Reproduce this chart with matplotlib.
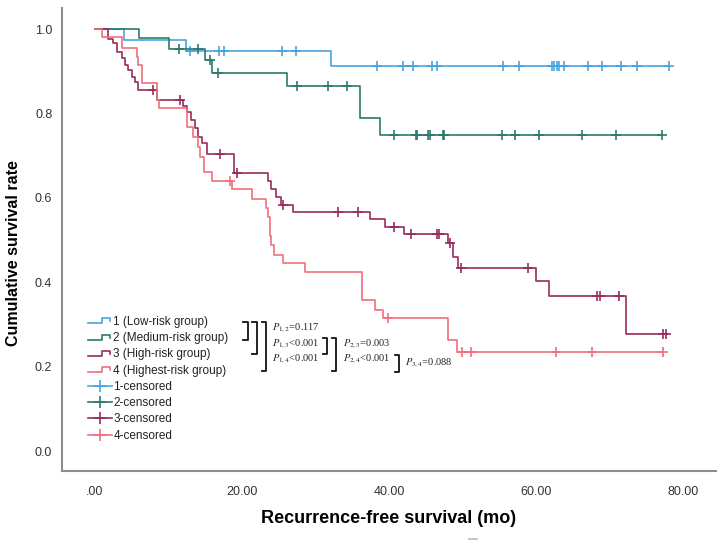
import matplotlib
matplotlib.use("Agg")
import matplotlib.pyplot as plt
import numpy as np
from matplotlib.lines import Line2D
from matplotlib.legend_handler import HandlerBase

# Kaplan-Meier step data: step times (mo) and survival after each step
low_t = [0, 3.9, 12.4, 32.1]
low_s = [1.0, 0.974, 0.948, 0.912]
low_end = 78.1
low_cens = [12.9, 16.9, 17.6, 25.4, 27.3, 38.4, 41.9, 43.3, 45.9, 46.5, 55.5, 57.7,
            62.2, 62.4, 62.9, 63.1, 63.8, 67.1, 69.0, 71.6, 73.7, 78.1]

med_t = [0, 6.0, 10.1, 15.0, 15.9, 26.1, 36.0, 38.8]
med_s = [1.0, 0.979, 0.952, 0.926, 0.897, 0.865, 0.789, 0.748]
med_end = 77.1
med_cens = [11.4, 14.0, 15.6, 16.7, 27.5, 31.7, 34.3, 40.7, 43.7, 43.8, 45.3, 45.6,
            47.3, 47.5, 55.4, 57.1, 60.4, 66.3, 70.9, 77.1]

high_t = [0, 1.8, 2.5, 3.0, 3.7, 4.1, 4.5, 5.0, 5.4, 5.9, 8.4, 12.0, 12.5, 13.0, 13.6,
          14.0, 14.6, 15.2, 18.9, 23.5, 24.0, 24.6, 25.3, 26.9, 37.4, 39.5, 42.0, 48.0,
          48.7, 49.4, 60.0, 61.8, 72.2]
high_s = [1.0, 0.976, 0.967, 0.946, 0.931, 0.915, 0.903, 0.886, 0.874, 0.855, 0.832,
          0.818, 0.804, 0.785, 0.766, 0.744, 0.729, 0.704, 0.659, 0.640, 0.620, 0.602,
          0.583, 0.566, 0.549, 0.531, 0.514, 0.493, 0.460, 0.434, 0.403, 0.367, 0.277]
high_end = 77.8
high_cens = [7.9, 11.6, 17.0, 19.3, 25.6, 33.1, 35.8, 40.7, 43.0, 46.5, 46.8, 48.3,
             49.8, 58.9, 68.3, 68.7, 71.3, 77.3, 77.7]

top_t = [0, 0.9, 3.7, 5.7, 5.9, 6.4, 8.4, 8.7, 12.5, 13.3, 14.0, 14.3, 14.8, 15.9,
         18.6, 21.3, 23.3, 23.5, 23.8, 24.0, 24.3, 25.6, 28.6, 36.3, 38.1, 39.2, 48.0, 49.2]
top_s = [1.0, 0.981, 0.955, 0.934, 0.915, 0.872, 0.832, 0.813, 0.768, 0.744, 0.720,
         0.697, 0.661, 0.640, 0.621, 0.597, 0.576, 0.555, 0.510, 0.488, 0.464, 0.445,
         0.424, 0.358, 0.334, 0.315, 0.263, 0.235]
top_end = 77.3
top_cens = [18.4, 39.9, 49.9, 51.2, 62.7, 67.6, 77.3]

group_names = ["1 (Low-risk group)", "2 (Medium-risk group)", "3 (High-risk group)",
               "4 (Highest-risk group)"]
cens_names = ["1-censored", "2-censored", "3-censored", "4-censored"]
colors = ["#43a7df", "#2b7a6b", "#982c5c", "#f0707c"]

x_ticks = [0, 20, 40, 60, 80]
x_ticklabels = [".00", "20.00", "40.00", "60.00", "80.00"]
y_ticks = [0.0, 0.2, 0.4, 0.6, 0.8, 1.0]

p_left = [r"$P_{1,2}$=0.117", r"$P_{1,3}$<0.001", r"$P_{1,4}$<0.001"]
p_mid = [r"$P_{2,3}$=0.003", r"$P_{2,4}$<0.001"]
p_right = [r"$P_{3,4}$=0.088"]

plt.rcParams["font.family"] = ["Liberation Sans", "DejaVu Sans"]
plt.rcParams["mathtext.fontset"] = "stix"

W, H = 724, 543
fig = plt.figure(figsize=(W / 100, H / 100), dpi=100)
ax = fig.add_axes([62 / W, 1 - 471 / H, 654 / W, 463 / H])


def km(t, s, end, cens, color):
    x = np.append(t, end)
    y = np.append(s, s[-1])
    ax.step(x, y, where="post", color=color, lw=1.2)
    idx = np.searchsorted(t, cens, side="right") - 1
    ax.plot(cens, np.array(s)[idx], "+", color=color, ms=7, mew=1.2)


km(low_t, low_s, low_end, low_cens, colors[0])
km(med_t, med_s, med_end, med_cens, colors[1])
km(high_t, high_s, high_end, high_cens, colors[2])
km(top_t, top_s, top_end, top_cens, colors[3])

ax.set_xlim(-4.49, 84.49)
ax.set_ylim(-0.047, 1.05)
ax.set_xticks(x_ticks)
ax.set_xticklabels(x_ticklabels)
ax.set_yticks(y_ticks)
ax.set_yticklabels([f"{v:.1f}" for v in y_ticks])
ax.tick_params(axis="x", length=0, pad=11, labelsize=9, labelcolor="#333333")
ax.tick_params(axis="y", length=0, pad=7, labelsize=9, labelcolor="#333333")
for side in ["top", "right"]:
    ax.spines[side].set_visible(False)
for side in ["left", "bottom"]:
    ax.spines[side].set_color("#8c8c8c")
    ax.spines[side].set_linewidth(1.5)

ax.set_xlabel("Recurrence-free survival (mo)", fontsize=13, fontweight="bold")
ax.xaxis.set_label_coords(0.5, (471 - 510) / 463)
ax.set_ylabel("Cumulative survival rate", fontsize=11.5, fontweight="bold")
ax.yaxis.set_label_coords((21 - 62) / 654, (471 - 253) / 463)


class StepHandler(HandlerBase):
    def create_artists(self, legend, orig_handle, xdescent, ydescent, width, height,
                       fontsize, trans):
        xs = np.array([0, 0.6, 0.6, 0.95, 0.95]) * width - xdescent
        ys = np.array([0.2, 0.2, 0.8, 0.8, 0.45]) * height - ydescent
        line = Line2D(xs, ys, color=orig_handle.get_color(), lw=1.2)
        line.set_transform(trans)
        return [line]


step_handles = [Line2D([], [], color=c) for c in colors]
cens_handles = [Line2D([], [], color=c, lw=1.2, marker="+", ms=9, mew=1.2) for c in colors]
handler_map = {h: StepHandler() for h in step_handles}
ax.legend(step_handles + cens_handles, group_names + cens_names, handler_map=handler_map,
          loc="upper left", bbox_to_anchor=((88 - 62) / 654, (471 - 316) / 463),
          frameon=False, fontsize=8.5, handlelength=2.0, handletextpad=0.15,
          labelspacing=0.36, borderpad=0, borderaxespad=0, labelcolor="#222222")


def px(x, y):
    return x / W, 1 - y / H


def bracket(x, y0, y1, arm=4.5):
    xs = [x - arm, x, x, x - arm]
    ys = [y0, y0, y1, y1]
    f = [px(a, b) for a, b in zip(xs, ys)]
    fig.add_artist(Line2D([p[0] for p in f], [p[1] for p in f], color="#111111", lw=1.3,
                          transform=fig.transFigure))


bracket(247.7, 321.7, 340)
bracket(256.7, 321.7, 354.3)
bracket(266, 321.7, 370.7)
bracket(327.3, 338.3, 354.3)
bracket(336, 338.3, 370.7)
bracket(399.3, 355, 371.7)

pfont = dict(fontsize=7.5, family=["Liberation Serif", "DejaVu Serif"], color="#222222",
             va="center", ha="left")
for txt, yy in zip(p_left, [328, 343.5, 359]):
    fig.text(*px(271.5, yy), txt, **pfont)
for txt, yy in zip(p_mid, [343.5, 359]):
    fig.text(*px(343, yy), txt, **pfont)
for txt, yy in zip(p_right, [363]):
    fig.text(*px(405, yy), txt, **pfont)

# small grey dash below the axis title
a, b = px(469, 539), px(477, 539)
fig.add_artist(Line2D([a[0], b[0]], [a[1], b[1]], color="#bbbbbb", lw=1.2,
                      transform=fig.transFigure))

fig.savefig("out.png", dpi=100)
